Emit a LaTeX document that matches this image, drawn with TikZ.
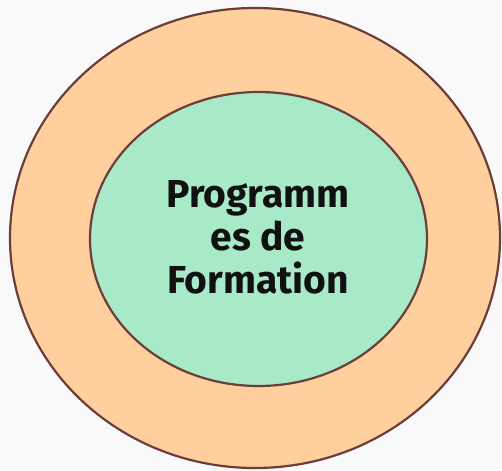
\documentclass[tikz,border=0pt]{standalone}
\usepackage{fontspec}
\setmainfont{Fira Sans}
\definecolor{bgc}{HTML}{F9F9F9}
\definecolor{outerc}{HTML}{FFCF9E}
\definecolor{innerc}{HTML}{A8E9C8}
\definecolor{edgec}{HTML}{6B3E3A}
\definecolor{txtc}{HTML}{111111}
\begin{document}
\begin{tikzpicture}[x=1pt,y=-1pt,
  ring/.style={draw=edgec,line width=2.2pt},
  label/.style={text=txtc,font=\fontsize{39}{43}\selectfont\bfseries,align=center,inner sep=0pt}]
\fill[bgc] (0,0) rectangle (502,470);
\useasboundingbox (0,0) rectangle (502,470);
\draw[ring,fill=outerc] (255,238) ellipse [x radius=245, y radius=230];
\draw[ring,fill=innerc] (258.5,239) ellipse [x radius=168.5, y radius=147];
\node[label,anchor=base] (t) at (258,293) {Programm\\es de\\Formation};
\end{tikzpicture}
\end{document}
